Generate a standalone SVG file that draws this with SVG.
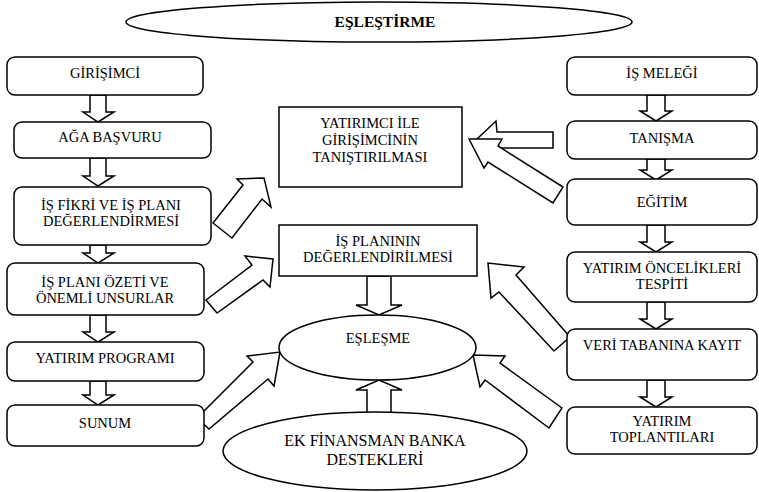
<svg xmlns="http://www.w3.org/2000/svg" width="759" height="492" viewBox="0 0 759 492">
<style>
.box{fill:#fff;stroke:#000;stroke-width:1.5}
.arr{fill:#fff;stroke:#000;stroke-width:1.5;stroke-linejoin:miter}
text{font-family:'Liberation Serif',serif;font-size:14.5px;text-anchor:middle;fill:#000}
.big{font-size:16px}
.b{font-weight:bold;font-size:15.5px}
</style>
<rect width="759" height="492" fill="#fff"/>
<g id="connectors">
  <path class="arr" d="M90,95 V112 H83 L98,122 L114,112 H106 V95 Z"/>
  <path class="arr" d="M90,158 V176 H83 L98,186 L114,176 H106 V158 Z"/>
  <path class="arr" d="M90,245 V253 H83 L98,263 L114,253 H106 V245 Z"/>
  <path class="arr" d="M90,315 V332 H83 L98,342 L114,332 H106 V315 Z"/>
  <path class="arr" d="M90,381 V395 H83 L98,405 L114,395 H106 V381 Z"/>
  <path class="arr" d="M647,95 V111 H640 L656,121 L672,111 H665 V95 Z"/>
  <path class="arr" d="M647,159 V170 H640 L656,180 L672,170 H665 V159 Z"/>
  <path class="arr" d="M647,225 V242 H640 L656,252 L672,242 H665 V225 Z"/>
  <path class="arr" d="M647,302 V319 H640 L656,329 L672,319 H665 V302 Z"/>
  <path class="arr" d="M647,380 V397 H640 L656,407 L672,397 H665 V380 Z"/>
  <path class="arr" d="M367,276 V305 H356 L379,315 L402,305 H391 V276 Z"/>
  <path class="arr" d="M367,413 V390 H356 L379,380 L402,390 H391 V413 Z"/>
  <path class="arr" d="M213,223 L243,185 L237,179 L264,178 L271,207 L262,199 L232,238 Z"/>
  <path class="arr" d="M206,300 L252,265 L245,256 L273,259 L270,287 L263,280 L217,313 Z"/>
  <path class="arr" d="M197,418 L253,362 L247,356 L280,352 L274,386 L268,379 L209,429 Z"/>
  <path class="arr" d="M562,408 L500,363 L505,356 L473,355 L480,387 L485,380 L549,428 Z"/>
  <path class="arr" d="M553,132 L497,132 L496,121 L477,139 L496,157 L497,148 L553,148 Z"/>
  <path class="arr" d="M563,187 L498,146 L502,139 L469,139 L484,168 L488,162 L553,203 Z"/>
  <path class="arr" d="M570,337 L516,275 L524,267 L488,263 L491,298 L499,292 L554,351 Z"/>
</g>
<g id="title">
  <ellipse class="box" cx="379" cy="22" rx="253" ry="20"/>
  <text class="b" x="385" y="27">EŞLEŞTİRME</text>
</g>
<g id="girisimci">
  <rect class="box" x="7" y="57" width="196" height="38" rx="8"/>
  <text x="105" y="78">GİRİŞİMCİ</text>
</g>
<g id="aga-basvuru">
  <rect class="box" x="14" y="122" width="197" height="36" rx="8"/>
  <text x="110" y="142">AĞA BAŞVURU</text>
</g>
<g id="is-fikri">
  <rect class="box" x="14" y="187" width="197" height="58" rx="8"/>
  <text x="111" y="210">İŞ FİKRİ VE İŞ PLANI</text>
  <text x="111" y="226">DEĞERLENDİRMESİ</text>
</g>
<g id="is-plani-ozeti">
  <rect class="box" x="7" y="263" width="197" height="52" rx="8"/>
  <text x="105" y="287">İŞ PLANI ÖZETİ VE</text>
  <text x="105" y="303">ÖNEMLİ UNSURLAR</text>
</g>
<g id="yatirim-programi">
  <rect class="box" x="7" y="342" width="197" height="39" rx="8"/>
  <text x="105" y="363">YATIRIM PROGRAMI</text>
</g>
<g id="sunum">
  <rect class="box" x="7" y="405" width="197" height="41" rx="8"/>
  <text x="105" y="428">SUNUM</text>
</g>
<g id="is-melegi">
  <rect class="box" x="567" y="57" width="190" height="38" rx="8"/>
  <text x="662" y="78">İŞ MELEĞİ</text>
</g>
<g id="tanisma">
  <rect class="box" x="567" y="121" width="190" height="38" rx="8"/>
  <text x="662" y="143">TANIŞMA</text>
</g>
<g id="egitim">
  <rect class="box" x="567" y="179" width="190" height="46" rx="8"/>
  <text x="662" y="207">EĞİTİM</text>
</g>
<g id="yatirim-oncelikleri">
  <rect class="box" x="567" y="252" width="190" height="50" rx="8"/>
  <text x="662" y="273">YATIRIM ÖNCELİKLERİ</text>
  <text x="662" y="289">TESPİTİ</text>
</g>
<g id="veri-tabani">
  <rect class="box" x="567" y="329" width="190" height="51" rx="8"/>
  <text x="662" y="350">VERİ TABANINA KAYIT</text>
</g>
<g id="yatirim-toplantilari">
  <rect class="box" x="567" y="407" width="190" height="47" rx="8"/>
  <text x="662" y="426">YATIRIM</text>
  <text x="662" y="442">TOPLANTILARI</text>
</g>
<g id="tanistirilmasi">
  <rect class="box" x="279" y="107" width="183" height="80"/>
  <text x="370" y="128">YATIRIMCI İLE</text>
  <text x="370" y="145">GİRİŞİMCİNİN</text>
  <text x="370" y="162">TANIŞTIRILMASI</text>
</g>
<g id="is-plani-degerlendirilmesi">
  <rect class="box" x="279" y="225" width="198" height="51"/>
  <text x="378" y="246">İŞ PLANININ</text>
  <text x="378" y="262">DEĞERLENDİRİLMESİ</text>
</g>
<g id="eslesme">
  <ellipse class="box" cx="377.5" cy="347.5" rx="98.5" ry="32.5"/>
  <text x="378" y="343">EŞLEŞME</text>
</g>
<g id="ek-finansman">
  <ellipse class="box" cx="375" cy="451" rx="152" ry="39"/>
  <text class="big" x="375" y="446">EK FİNANSMAN BANKA</text>
  <text class="big" x="375" y="465">DESTEKLERİ</text>
</g>
</svg>
